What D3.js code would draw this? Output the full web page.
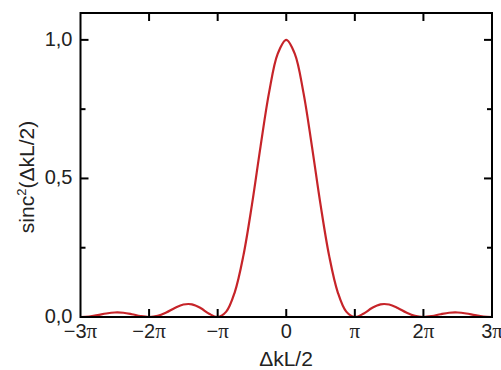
<!DOCTYPE html>
<html><head><meta charset="utf-8">
<script src="https://cdn.jsdelivr.net/npm/d3@7/dist/d3.min.js"></script>
<style>body{margin:0;background:#fff}svg{display:block}</style>
</head><body><svg id="c" width="501" height="370"></svg>
<script>
// x in units of pi (ΔkL/2 / π), sampled every π/8
const xPi = [-3,-2.875,-2.75,-2.625,-2.5,-2.375,-2.25,-2.125,-2,-1.875,-1.75,-1.625,-1.5,-1.375,-1.25,-1.125,-1,-0.875,-0.75,-0.625,-0.5,-0.375,-0.25,-0.125,0,0.125,0.25,0.375,0.5,0.625,0.75,0.875,1,1.125,1.25,1.375,1.5,1.625,1.75,1.875,2,2.125,2.25,2.375,2.5,2.625,2.75,2.875,3];
const halfVals = [1,0.9496,0.8106,0.6150,0.4053,0.2214,0.0901,0.0194,0,0.0117,0.0324,0.0457,0.0450,0.0328,0.0165,0.0042,0,0.0033,0.0100,0.0153,0.0162,0.0126,0.0067,0.0018,0];
const yVals = halfVals.slice().reverse().concat(halfVals.slice(1));
const xTickVals = [-3,-2,-1,0,1,2,3];
const xTickNum = ["\u22123","\u22122","\u2212","0","","2","3"];
const yTickVals = [0,0.5,1];
const yTickLabels = ["0,0","0,5","1,0"];
const yMinor = [0.25,0.75];

const svg = d3.select("#c");
const L=80.5, R=492, T=13, B=317;
const x = d3.scaleLinear().domain([-3,3]).range([L,R]);
const y = d3.scaleLinear().domain([0,1.097]).range([B,T]);
const data = xPi.map((v,i)=>({x:v,y:yVals[i]}));

svg.append("path").datum(data)
  .attr("fill","none").attr("stroke","#c62429").attr("stroke-width",2.2)
  .attr("d", d3.line().x(d=>x(d.x)).y(d=>y(d.y)).curve(d3.curveCatmullRom.alpha(0.5)));

const g = svg.append("g").attr("stroke","#000").attr("stroke-width",2);
xTickVals.slice(1,-1).forEach(v=>{
  g.append("line").attr("x1",x(v)).attr("x2",x(v)).attr("y1",B).attr("y2",B-8);
  g.append("line").attr("x1",x(v)).attr("x2",x(v)).attr("y1",T).attr("y2",T+8);
});
yTickVals.slice(1).forEach(v=>{
  g.append("line").attr("x1",L).attr("x2",L+8).attr("y1",y(v)).attr("y2",y(v));
  g.append("line").attr("x1",R).attr("x2",R-8).attr("y1",y(v)).attr("y2",y(v));
});
yMinor.forEach(v=>{
  g.append("line").attr("x1",L).attr("x2",L+5).attr("y1",y(v)).attr("y2",y(v));
  g.append("line").attr("x1",R).attr("x2",R-5).attr("y1",y(v)).attr("y2",y(v));
});
svg.append("rect").attr("x",L).attr("y",T).attr("width",R-L).attr("height",B-T)
  .attr("fill","none").attr("stroke","#000").attr("stroke-width",2);

const font = "'Liberation Sans', Arial, sans-serif";
yTickVals.forEach((v,i)=>{
  svg.append("text").attr("x",L-8).attr("y",y(v)+6).attr("text-anchor","end")
    .attr("font-family",font).attr("font-size",20).attr("fill","#222").text(yTickLabels[i]);
});
xTickVals.forEach((v,i)=>{
  const t = svg.append("text").attr("x",x(v)).attr("y",338).attr("text-anchor","middle")
    .attr("font-family",font).attr("font-size",20).attr("fill","#222");
  t.append("tspan").text(xTickNum[i]);
  if (v!==0) t.append("tspan").attr("font-family","'Liberation Serif', 'Times New Roman', serif").attr("font-size",21).text("\u03c0");
});
svg.append("text").attr("x",286).attr("y",366).attr("text-anchor","middle")
  .attr("font-family",font).attr("font-size",21).attr("fill","#222").text("\u0394kL/2");
const yt = svg.append("text").attr("transform","translate(34,177) rotate(-90)").attr("text-anchor","middle")
  .attr("font-family",font).attr("font-size",21).attr("fill","#222");
yt.append("tspan").text("sinc");
yt.append("tspan").attr("font-size",13).attr("dy",-8).text("2");
yt.append("tspan").attr("dy",8).text("(\u0394kL/2)");
</script></body></html>
